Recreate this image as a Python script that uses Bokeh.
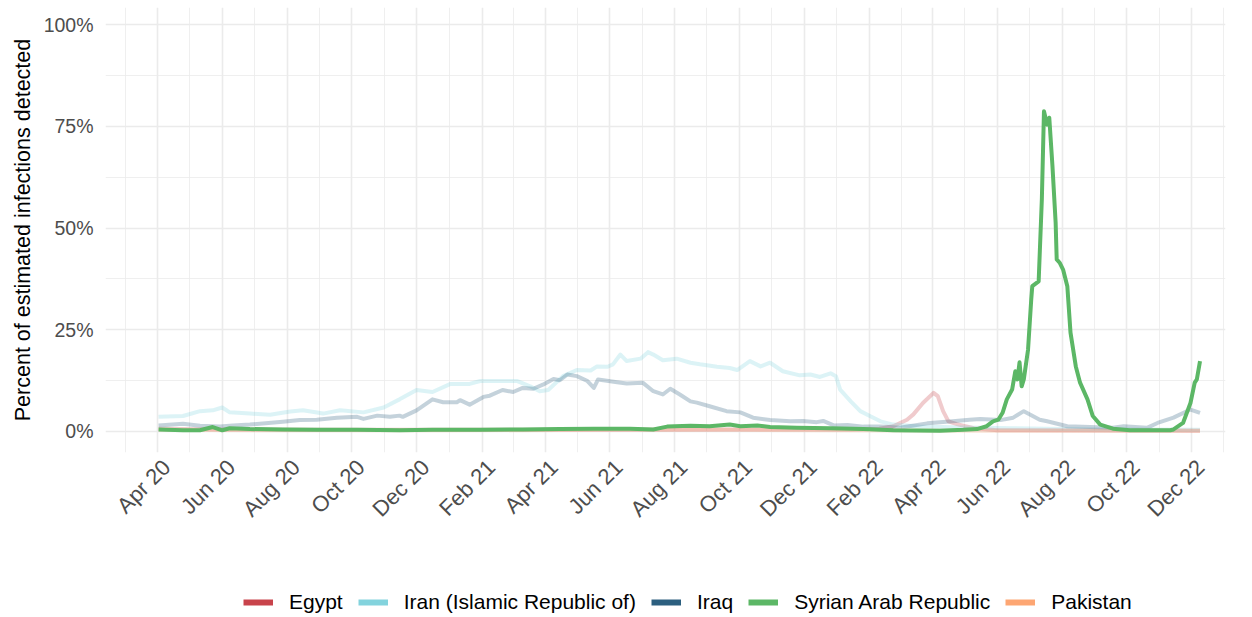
import math
from datetime import datetime
import pandas as pd
from bokeh.plotting import figure
from bokeh.layouts import column
from bokeh.models import Range1d, FixedTicker, Legend, LegendItem, DatetimeTickFormatter
from bokeh.embed import file_html
from bokeh.resources import INLINE

countries = ["Egypt", "Iran (Islamic Republic of)", "Iraq", "Syrian Arab Republic", "Pakistan"]
colors = ["#C8434B", "#83D3DD", "#2C5F7F", "#5CB766", "#FDA673"]
highlight = "Syrian Arab Republic"

egypt_dates = ["2020-04-02", "2020-06-01", "2020-09-01", "2021-01-01", "2021-06-01", "2021-10-01",
               "2022-01-15", "2022-02-10", "2022-02-23", "2022-03-08", "2022-03-14", "2022-03-23",
               "2022-04-02", "2022-04-06", "2022-04-11", "2022-04-16", "2022-04-24", "2022-05-10",
               "2022-06-01", "2022-12-09"]
egypt_vals = [0.7, 0.5, 0.4, 0.4, 0.4, 0.5,
              0.5, 0.7, 1.3, 2.9, 4.2, 7.0,
              9.5, 8.7, 5.0, 2.5, 1.8, 0.8,
              0.3, 0.2]

iran_dates = ["2020-04-02", "2020-04-25", "2020-05-11", "2020-05-23", "2020-06-01", "2020-06-08",
              "2020-06-27", "2020-07-16", "2020-08-04", "2020-08-16", "2020-09-04", "2020-09-20",
              "2020-10-12", "2020-10-31", "2020-11-15", "2020-12-01", "2020-12-16", "2021-01-02",
              "2021-01-20", "2021-01-30", "2021-03-06", "2021-03-18", "2021-03-27", "2021-04-04",
              "2021-04-18", "2021-05-01", "2021-05-14", "2021-05-20", "2021-05-30", "2021-06-04",
              "2021-06-11", "2021-06-17", "2021-06-30", "2021-07-07", "2021-07-12", "2021-07-21",
              "2021-08-03", "2021-08-16", "2021-08-25", "2021-09-10", "2021-09-22", "2021-09-29",
              "2021-10-11", "2021-10-21", "2021-10-30", "2021-11-11", "2021-11-27", "2021-12-07",
              "2021-12-16", "2021-12-26", "2021-12-31", "2022-01-04", "2022-01-14", "2022-01-23",
              "2022-02-01", "2022-02-11", "2022-02-23", "2022-03-20", "2022-05-01", "2022-06-15",
              "2022-08-01", "2022-10-01", "2022-12-09"]
iran_vals = [3.6, 3.8, 5.0, 5.2, 5.9, 4.7,
             4.4, 4.1, 4.9, 5.2, 4.4, 5.2,
             4.7, 5.9, 7.9, 10.2, 9.7, 11.7,
             11.7, 12.4, 12.4, 11.1, 9.9, 10.2,
             13.6, 15.1, 15.0, 16.0, 15.9, 16.5,
             18.9, 17.3, 17.9, 19.5, 18.9, 17.5,
             17.9, 16.9, 16.5, 15.9, 15.6, 15.1,
             17.3, 16.0, 16.9, 14.8, 13.8, 14.0,
             13.4, 14.3, 13.6, 10.3, 7.4, 5.0,
             3.8, 2.5, 1.7, 1.2, 1.0, 0.8,
             0.6, 0.5, 0.4]

iraq_dates = ["2020-04-02", "2020-04-25", "2020-05-11", "2020-05-30", "2020-06-11", "2020-06-27",
              "2020-07-28", "2020-08-13", "2020-08-29", "2020-09-17", "2020-10-06", "2020-10-12",
              "2020-10-25", "2020-11-06", "2020-11-15", "2020-11-18", "2020-12-01", "2020-12-16",
              "2020-12-26", "2021-01-08", "2021-01-11", "2021-01-20", "2021-02-02", "2021-02-08",
              "2021-02-20", "2021-03-02", "2021-03-11", "2021-03-21", "2021-03-30", "2021-04-09",
              "2021-04-15", "2021-04-22", "2021-05-01", "2021-05-11", "2021-05-17", "2021-05-21",
              "2021-06-08", "2021-06-17", "2021-07-02", "2021-07-12", "2021-07-21", "2021-07-28",
              "2021-08-06", "2021-08-16", "2021-08-22", "2021-09-03", "2021-09-19", "2021-10-02",
              "2021-10-14", "2021-10-30", "2021-11-18", "2021-11-30", "2021-12-13", "2021-12-19",
              "2021-12-29", "2022-01-11", "2022-01-26", "2022-02-11", "2022-03-01", "2022-03-27",
              "2022-04-20", "2022-05-06", "2022-05-16", "2022-06-04", "2022-06-16", "2022-06-26",
              "2022-07-11", "2022-07-18", "2022-08-06", "2022-09-18", "2022-09-28", "2022-10-20",
              "2022-10-30", "2022-11-14", "2022-11-30", "2022-12-09"]
iraq_vals = [1.5, 1.9, 1.4, 1.2, 1.5, 1.7,
             2.4, 2.8, 2.9, 3.4, 3.6, 3.1,
             3.9, 3.6, 3.9, 3.6, 5.2, 7.9,
             7.2, 7.2, 7.7, 6.6, 8.5, 8.8,
             10.2, 9.7, 10.7, 10.5, 11.5, 12.9,
             12.6, 14.0, 13.6, 12.4, 10.7, 12.8,
             12.1, 11.8, 12.0, 9.9, 9.1, 10.5,
             9.1, 7.4, 7.1, 6.2, 5.0, 4.7,
             3.4, 2.8, 2.5, 2.6, 2.3, 2.6,
             1.5, 1.6, 1.2, 1.2, 0.9, 2.0,
             2.5, 2.9, 3.1, 2.8, 3.4, 5.0,
             2.9, 2.5, 1.3, 0.9, 1.3, 0.9,
             2.1, 3.4, 5.4, 4.6]

syria_dates = ["2020-04-02", "2020-04-25", "2020-05-11", "2020-05-23", "2020-06-01", "2020-06-08",
               "2020-06-27", "2020-07-28", "2020-08-29", "2020-10-06", "2020-11-15", "2020-12-16",
               "2021-01-30", "2021-03-11", "2021-04-15", "2021-05-17", "2021-06-20", "2021-07-12",
               "2021-07-25", "2021-08-16", "2021-09-03", "2021-09-22", "2021-10-02", "2021-10-18",
               "2021-10-30", "2021-11-24", "2021-12-26", "2022-01-26", "2022-02-23", "2022-04-08",
               "2022-04-30", "2022-05-13", "2022-05-22", "2022-05-28", "2022-06-02", "2022-06-06",
               "2022-06-10", "2022-06-15", "2022-06-18", "2022-06-20", "2022-06-22", "2022-06-24",
               "2022-06-26", "2022-06-30", "2022-07-03", "2022-07-04", "2022-07-10", "2022-07-13",
               "2022-07-15", "2022-07-18", "2022-07-20", "2022-07-23", "2022-07-26", "2022-07-27",
               "2022-07-30", "2022-08-02", "2022-08-06", "2022-08-09", "2022-08-14", "2022-08-18",
               "2022-08-25", "2022-08-30", "2022-09-06", "2022-09-18", "2022-10-04", "2022-11-11",
               "2022-11-14", "2022-11-23", "2022-11-30", "2022-12-04", "2022-12-06", "2022-12-09"]
syria_vals = [0.5, 0.3, 0.3, 1.1, 0.3, 0.8,
              0.6, 0.5, 0.4, 0.4, 0.3, 0.4,
              0.4, 0.5, 0.6, 0.7, 0.7, 0.5,
              1.2, 1.4, 1.3, 1.7, 1.3, 1.5,
              1.1, 0.9, 0.8, 0.6, 0.3, 0.2,
              0.4, 0.6, 1.3, 2.5, 2.9, 4.6,
              7.9, 10.3, 14.8, 12.8, 17.0, 11.1,
              12.8, 20.1, 32.4, 35.7, 36.9, 57.0,
              78.7, 75.4, 77.1, 65.2, 51.3, 42.3,
              41.4, 39.8, 35.7, 24.3, 16.0, 12.0,
              7.9, 3.8, 1.7, 0.7, 0.3, 0.3,
              0.5, 2.1, 7.0, 12.0, 12.8, 17.3]

pakistan_dates = ["2020-04-02", "2020-08-01", "2021-01-01", "2021-06-01", "2021-10-01",
                  "2022-01-01", "2022-06-01", "2022-12-09"]
pakistan_vals = [0.4, 0.3, 0.3, 0.4, 0.4, 0.3, 0.2, 0.2]

x_tick_dates = ["2020-04-01", "2020-06-01", "2020-08-01", "2020-10-01", "2020-12-01",
                "2021-02-01", "2021-04-01", "2021-06-01", "2021-08-01", "2021-10-01", "2021-12-01",
                "2022-02-01", "2022-04-01", "2022-06-01", "2022-08-01", "2022-10-01", "2022-12-01"]
x_tick_labels = ["Apr 20", "Jun 20", "Aug 20", "Oct 20", "Dec 20",
                 "Feb 21", "Apr 21", "Jun 21", "Aug 21", "Oct 21", "Dec 21",
                 "Feb 22", "Apr 22", "Jun 22", "Aug 22", "Oct 22", "Dec 22"]
y_ticks = [0, 25, 50, 75, 100]
y_tick_labels = ["0%", "25%", "50%", "75%", "100%"]
y_minor_ticks = [12.5, 37.5, 62.5, 87.5]

series = {
    "Egypt": (egypt_dates, egypt_vals),
    "Iran (Islamic Republic of)": (iran_dates, iran_vals),
    "Iraq": (iraq_dates, iraq_vals),
    "Syrian Arab Republic": (syria_dates, syria_vals),
    "Pakistan": (pakistan_dates, pakistan_vals),
}

EPOCH = datetime(1970, 1, 1)
DAY_MS = 86400000.0


def ms(d):
    return (pd.Timestamp(d).to_pydatetime() - EPOCH).total_seconds() * 1000.0


FONT = "Liberation Sans"

MAIN_H = 585
p = figure(width=1244, height=MAIN_H, x_axis_type="datetime",
           output_backend="svg", toolbar_location=None,
           x_range=Range1d(start=datetime(2020, 2, 12), end=datetime(2023, 1, 2)),
           y_range=Range1d(start=-5.16, end=104.18),
           min_border_left=105, min_border_right=19, min_border_top=7,
           min_border_bottom=MAIN_H - 7 - 445)
p.outline_line_color = None
p.background_fill_color = "white"

major_ms = [ms(d) for d in x_tick_dates]
minor_ms = [major_ms[0] - (major_ms[1] - major_ms[0]) / 2.0]
minor_ms += [(a + b) / 2.0 for a, b in zip(major_ms[:-1], major_ms[1:])]
minor_ms += [major_ms[-1] + (major_ms[-1] - major_ms[-2]) / 2.0]

# gridlines sit on the true month breaks
p.xgrid.ticker = FixedTicker(ticks=major_ms, minor_ticks=minor_ms)
# rotated labels anchored a little right of their break (ggplot hjust=1, vjust=1 look)
LABEL_NUDGE = 8.5 * DAY_MS
label_ms = [t + LABEL_NUDGE for t in major_ms]
p.xaxis.ticker = FixedTicker(ticks=label_ms, minor_ticks=[])
p.xaxis.formatter = DatetimeTickFormatter(months="%b %y", days="%b %y")
p.xaxis.major_label_overrides = {t: lab for t, lab in zip(label_ms, x_tick_labels)}
p.yaxis.ticker = FixedTicker(ticks=y_ticks, minor_ticks=y_minor_ticks)
p.yaxis.major_label_overrides = {t: lab for t, lab in zip(y_ticks, y_tick_labels)}

for ax in (p.xaxis, p.yaxis):
    ax.axis_line_color = None
    ax.major_tick_line_color = None
    ax.minor_tick_line_color = None
    ax.major_tick_out = 0
    ax.major_label_text_font = FONT
    ax.major_label_text_color = "#4D4D4D"

p.yaxis.major_label_text_font_size = "19.5px"
p.xaxis.major_label_text_font_size = "22px"
p.xaxis.major_label_orientation = math.pi / 4
p.xaxis.major_label_standoff = 11
p.yaxis.major_label_standoff = 8
p.yaxis.axis_label = "Percent of estimated infections detected"
p.yaxis.axis_label_text_font = FONT
p.yaxis.axis_label_text_font_size = "21.5px"
p.yaxis.axis_label_text_font_style = "normal"
p.yaxis.axis_label_text_color = "#000000"
p.yaxis.axis_label_standoff = 6

for g in (p.xgrid, p.ygrid):
    g.grid_line_color = "#EBEBEB"
    g.grid_line_width = 1.6
    g.minor_grid_line_color = "#EBEBEB"
    g.minor_grid_line_width = 0.8

order = [c for c in countries if c != highlight] + [highlight]
for name in order:
    col = colors[countries.index(name)]
    dts, vals = series[name]
    alpha = 1.0 if name == highlight else 0.28
    p.line(x=pd.to_datetime(dts), y=vals, line_color=col, line_width=4,
           line_alpha=alpha, line_join="round")

# legend strip beneath the chart (full-colour keys, as in the reference).
# Its frame is aligned with the chart's frame by the column layout.
LEG_H = 31
lf = figure(width=1244, height=LEG_H, x_axis_type="datetime",
            output_backend="svg", toolbar_location=None,
            x_axis_location=None, y_axis_location=None,
            x_range=Range1d(start=datetime(1990, 1, 1), end=datetime(1990, 1, 2)),
            y_range=Range1d(0, 1),
            min_border_left=0, min_border_right=0, min_border_top=0, min_border_bottom=0)
lf.outline_line_color = None
lf.xgrid.visible = False
lf.ygrid.visible = False
items = []
for name, col in zip(countries, colors):
    dts, vals = series[name]
    # same series, but this strip's range shows none of it: only the legend key is seen
    r = lf.line(x=pd.to_datetime(dts), y=vals, line_color=col, line_width=6)
    items.append(LegendItem(label=name, renderers=[r]))
legend = Legend(items=items, orientation="horizontal", location=(138, 2),
                glyph_width=30, glyph_height=20, label_standoff=16, spacing=15,
                label_text_font=FONT, label_text_font_size="21px",
                label_text_color="#000000",
                background_fill_alpha=0, border_line_alpha=0,
                padding=0, margin=0)
lf.add_layout(legend, "center")

layout = column(p, lf, spacing=0)
open("out.html", "w").write(file_html(layout, INLINE))
